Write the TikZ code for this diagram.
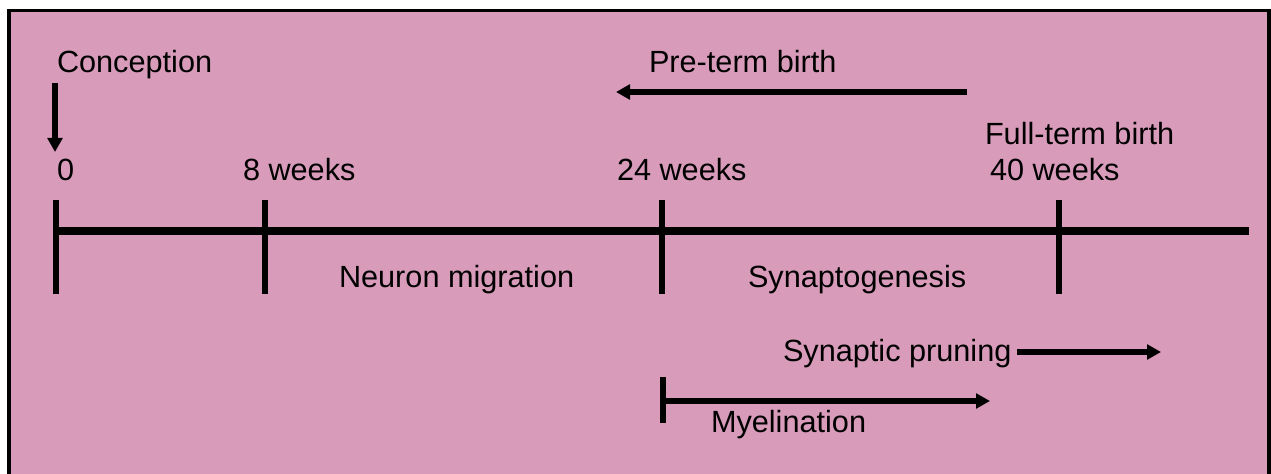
\documentclass[tikz,border=0pt]{standalone}
\usepackage{fontspec}
\setmainfont{Liberation Sans}
\usetikzlibrary{arrows.meta}
\definecolor{bgpink}{RGB}{216,155,186}
\begin{document}
\begin{tikzpicture}[x=0.75pt,y=-0.75pt,
  lbl/.style={anchor=base west,inner sep=0pt,outer sep=0pt,font=\fontsize{23}{27}\selectfont},
  axis/.style={line width=5.25pt},
  tick/.style={line width=4pt},
  arr/.style={line width=4pt,-{Triangle[length=10.5pt,width=11pt]}}]
\useasboundingbox (0,0) rectangle (1271,474);
\fill[white] (0,0) rectangle (1271,474);
\fill[bgpink] (9,10.5) rectangle (1269,474);
\draw[line width=2.5pt] (9,474) -- (9,10.5) -- (1269,10.5) -- (1269,474);

% timeline
\coordinate (t0top) at (56,200); \coordinate (t0bot) at (56,294);
\coordinate (t8top) at (265,200); \coordinate (t8bot) at (265,294);
\coordinate (t24top) at (662,200); \coordinate (t24bot) at (662,294);
\coordinate (t40top) at (1059,200); \coordinate (t40bot) at (1059,294);
\coordinate (tl0) at (56,231); \coordinate (tlend) at (1249,231);
\draw[axis] (tl0) -- (tlend);
\draw[tick] (t0top) -- (t0bot);
\draw[tick] (t8top) -- (t8bot);
\draw[tick] (t24top) -- (t24bot);
\draw[tick] (t40top) -- (t40bot);

% labels
\node[lbl] (conc) at (57,73) {Conception};
\node[lbl] (pre) at (649,73) {Pre-term birth};
\node[lbl] (full) at (985,145) {Full-term birth};
\node[lbl] (w0) at (57,181) {0};
\node[lbl] (w8) at (243,181) {8 weeks};
\node[lbl] (w24) at (617,181) {24 weeks};
\node[lbl] (w40) at (990,181) {40 weeks};
\node[lbl] (neur) at (339,287) {Neuron migration};
\node[lbl] (syng) at (748,287) {Synaptogenesis};
\node[lbl] (prun) at (783,361) {Synaptic pruning};
\node[lbl] (myel) at (711,432) {Myelination};

% conception arrow
\coordinate (cs) at (55,83); \coordinate (ce) at (55,152);
\draw[arr] (cs) -- (ce);
% pre-term arrow
\coordinate (ps) at (967,92); \coordinate (pe) at (616,92);
\draw[arr] (ps) -- (pe);
% pruning arrow
\coordinate (prs) at (1017,352); \coordinate (pre2) at (1161,352);
\draw[arr] (prs) -- (pre2);
% myelination
\coordinate (mtop) at (663,377); \coordinate (mbot) at (663,423);
\coordinate (ms) at (663,401); \coordinate (me) at (990,401);
\draw[tick] (mtop) -- (mbot);
\draw[arr] (ms) -- (me);
\end{tikzpicture}
\end{document}
